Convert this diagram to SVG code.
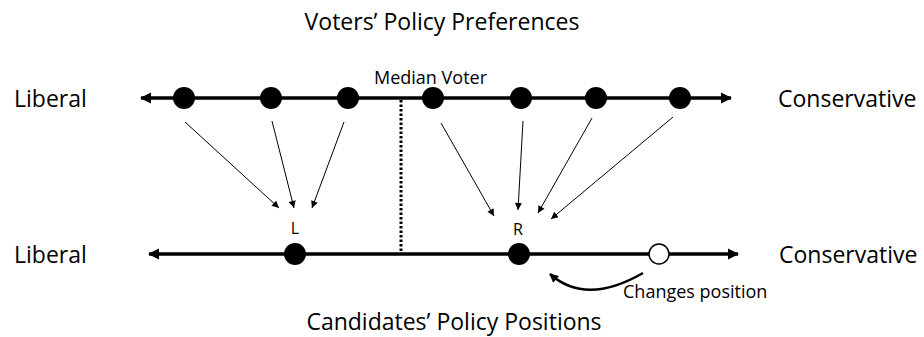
<svg xmlns="http://www.w3.org/2000/svg" width="924" height="337" viewBox="0 0 924 337">
<style>
text{font-family:"Open Sans","Liberation Sans",sans-serif;fill:#000}
.big{font-size:23px}
.small{font-size:18px}
.lbl{font-size:16px}
.axis{stroke:#000;stroke-width:3.5;fill:none}
.thin{stroke:#000;stroke-width:1;fill:none}
.dot{fill:#000}
</style>
<defs>
<marker id="axisHead" viewBox="0 0 10 10" refX="9" refY="5" markerWidth="3.2" markerHeight="3.2" orient="auto-start-reverse" markerUnits="strokeWidth">
<path d="M0,0 L10,5 L0,10 Z" fill="#000"/>
</marker>
<marker id="thinHead" viewBox="0 0 10 10" refX="10" refY="5" markerWidth="9" markerHeight="7" orient="auto" markerUnits="userSpaceOnUse">
<path d="M0,0 L10,5 L0,10 Z" fill="#000"/>
</marker>
<marker id="curveHead" viewBox="0 0 10 10" refX="9" refY="5" markerWidth="11" markerHeight="9" orient="auto" markerUnits="userSpaceOnUse">
<path d="M0,0 L10,5 L0,10 Z" fill="#000"/>
</marker>
</defs>
<rect width="924" height="337" fill="#fff"/>

<text class="big" x="442" y="30" text-anchor="middle" id="title-top">Voters’ Policy Preferences</text>
<text class="big" x="454" y="330" text-anchor="middle" id="title-bottom">Candidates’ Policy Positions</text>

<g id="axis-top">
<line class="axis" x1="141" y1="98" x2="731" y2="98" marker-start="url(#axisHead)" marker-end="url(#axisHead)"/>
<text class="big" x="14" y="107">Liberal</text>
<text class="big" x="778" y="107">Conservative</text>
</g>
<g id="axis-bottom">
<line class="axis" x1="149" y1="254" x2="738" y2="254" marker-start="url(#axisHead)" marker-end="url(#axisHead)"/>
<text class="big" x="14" y="263">Liberal</text>
<text class="big" x="779" y="263">Conservative</text>
</g>

<g id="median">
<line x1="401" y1="100" x2="401" y2="254" stroke="#000" stroke-width="3" stroke-dasharray="2.5,2"/>
<text class="small" x="374" y="84">Median Voter</text>
</g>

<g id="voters">
<circle class="dot" cx="184" cy="98" r="11"/>
<circle class="dot" cx="271" cy="98" r="11"/>
<circle class="dot" cx="348" cy="98" r="11"/>
<circle class="dot" cx="433" cy="98" r="11"/>
<circle class="dot" cx="521" cy="98" r="11"/>
<circle class="dot" cx="596" cy="98" r="11"/>
<circle class="dot" cx="680" cy="98" r="11"/>
</g>

<g id="candidate-L">
<circle class="dot" cx="295" cy="254" r="11"/>
<text class="lbl" x="295" y="234" text-anchor="middle">L</text>
</g>
<g id="candidate-R">
<circle class="dot" cx="519" cy="254" r="11"/>
<text class="lbl" x="518" y="235" text-anchor="middle">R</text>
</g>
<g id="old-position">
<circle cx="659" cy="254" r="10" fill="#fff" stroke="#000" stroke-width="1.5"/>
</g>

<g id="connectors">
<line class="thin" x1="185" y1="122" x2="279" y2="208" marker-end="url(#thinHead)"/>
<line class="thin" x1="272" y1="121" x2="294" y2="208" marker-end="url(#thinHead)"/>
<line class="thin" x1="344" y1="122" x2="312" y2="208" marker-end="url(#thinHead)"/>
<line class="thin" x1="441" y1="123" x2="494" y2="216" marker-end="url(#thinHead)"/>
<line class="thin" x1="523" y1="121" x2="518" y2="210" marker-end="url(#thinHead)"/>
<line class="thin" x1="592" y1="118" x2="538" y2="213" marker-end="url(#thinHead)"/>
<line class="thin" x1="673" y1="117" x2="551" y2="219" marker-end="url(#thinHead)"/>
<path d="M643,273 Q586,306 550,274" stroke="#000" stroke-width="2.5" fill="none" marker-end="url(#curveHead)"/>
<text class="small" x="623" y="298">Changes position</text>
</g>
</svg>
